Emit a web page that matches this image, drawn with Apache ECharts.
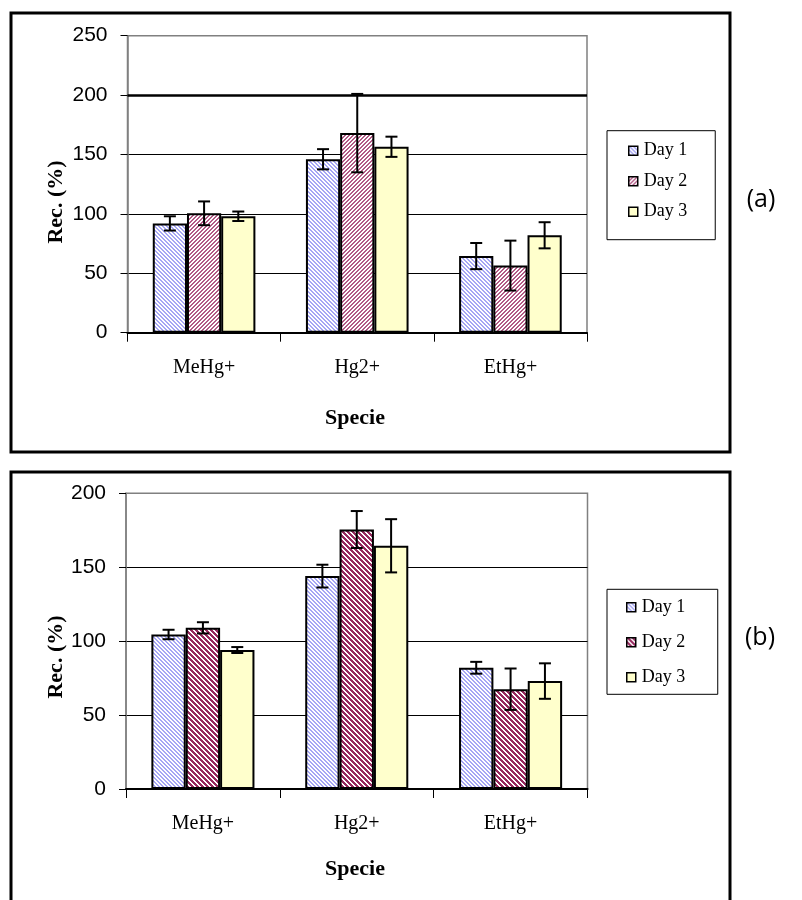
<!DOCTYPE html>
<html>
<head>
<meta charset="utf-8">
<script src="https://cdn.jsdelivr.net/npm/echarts@6/dist/echarts.min.js"></script>
<style>
  html, body { margin: 0; padding: 0; background: #fff; }
  #chart { width: 802px; height: 900px; }
</style>
</head>
<body>
<div id="chart"></div>
<script>
// Mercury species recovery (%) over three days, two experiments (a) and (b)
const species = ['MeHg+', 'Hg2+', 'EtHg+'];
const dayNames = ['Day 1', 'Day 2', 'Day 3'];

// Panel (a): mean recovery and standard deviation per day
const aDay1 = [92, 146, 64.5];
const aDay1Err = [6, 8.5, 11];
const aDay2 = [100.5, 168, 56.5];
const aDay2Err = [10, 33, 21];
const aDay3 = [98, 156.5, 82];
const aDay3Err = [4, 8.5, 11];

// Panel (b): mean recovery and standard deviation per day
const bDay1 = [104.5, 144, 82];
const bDay1Err = [3.2, 7.7, 4];
const bDay2 = [109, 175.5, 67.5];
const bDay2Err = [3.8, 12.5, 14];
const bDay3 = [94, 164.5, 73];
const bDay3Err = [2, 18, 12];

// Axis ranges / tick steps
const aTicks = { min: 0, max: 250, interval: 50 };
const bTicks = { min: 0, max: 200, interval: 50 };
const aHighlightLine = 200;

const SERIF = "'Liberation Serif', 'Times New Roman', serif";
const SANS = "'Liberation Sans', Arial, sans-serif";
const CAT_GAP = 0.33;

// Pixel-exact diagonal hatching on a small repeating tile
function hatch(color, size, width, dir) {
  const c = document.createElement('canvas');
  c.width = size; c.height = size;
  const g = c.getContext('2d');
  g.fillStyle = '#ffffff';
  g.fillRect(0, 0, size, size);
  g.fillStyle = color;
  for (let y = 0; y < size; y++) {
    for (let j = 0; j < width; j++) {
      const base = dir === 'down' ? y : size - 1 - y;
      const x = (base + j) % size;
      g.fillRect(x, y, 1, 1);
    }
  }
  return { image: c, repeat: 'repeat' };
}

const fillDay1 = hatch('#a6a6f4', 4, 2, 'down');
const fillDay2a = hatch('#b25a86', 4, 2, 'up');
const fillDay2b = hatch('#96295e', 5, 3, 'down');
const fillDay3 = '#ffffcc';

function barSeries(name, data, fill, gi, extra) {
  return Object.assign({
    type: 'bar', name: name, data: data,
    xAxisIndex: gi, yAxisIndex: gi,
    barGap: '0%', barCategoryGap: (CAT_GAP * 100) + '%',
    itemStyle: { color: fill, borderColor: '#000', borderWidth: 2 },
    emphasis: { disabled: true },
    z: 2
  }, extra || {});
}

function errSeries(means, errs, k, gi) {
  return {
    type: 'custom', xAxisIndex: gi, yAxisIndex: gi, z: 5, silent: true,
    data: means.map((v, i) => [i, v, errs[i]]),
    encode: { x: 0, y: 1 },
    renderItem: function (params, api) {
      const xi = api.value(0), v = api.value(1), e = api.value(2);
      const band = api.size([1, 0])[0];
      const bw = band * (1 - CAT_GAP) / 3;
      const cx = api.coord([xi, v])[0] + (k - 1) * bw;
      const yt = api.coord([xi, v + e])[1];
      const yb = api.coord([xi, v - e])[1];
      const cap = 6;
      const st = { stroke: '#000', lineWidth: 2 };
      return {
        type: 'group',
        children: [
          { type: 'line', shape: { x1: cx, y1: yt, x2: cx, y2: yb }, style: st },
          { type: 'line', shape: { x1: cx - cap, y1: yt, x2: cx + cap, y2: yt }, style: st },
          { type: 'line', shape: { x1: cx - cap, y1: yb, x2: cx + cap, y2: yb }, style: st }
        ]
      };
    }
  };
}

function xAxisFor(gi) {
  return {
    type: 'category', gridIndex: gi, data: species,
    axisLine: { lineStyle: { color: '#000', width: 2 } },
    axisTick: { show: true, length: 9, lineStyle: { color: '#000', width: 1 } },
    axisLabel: { fontFamily: SERIF, fontSize: 20, color: '#000', margin: 25 },
    splitLine: { show: false }
  };
}

function yAxisFor(gi, t) {
  return {
    type: 'value', gridIndex: gi, min: t.min, max: t.max, interval: t.interval,
    axisLine: { show: true, lineStyle: { color: '#808080', width: 1.5 } },
    axisTick: { show: true, length: 7, lineStyle: { color: '#000', width: 1 } },
    axisLabel: { fontFamily: SANS, fontSize: 21, color: '#000', margin: 20 },
    splitLine: { show: true, showMinLine: false, showMaxLine: false,
                 lineStyle: { color: '#000', width: 1 } }
  };
}

function legendFor(gi, top, gap, pad) {
  return {
    orient: 'vertical', left: 607, top: top,
    data: dayNames.map((n) => ({ name: n + (gi ? ' ' : '') })),
    itemWidth: 9, itemHeight: 9, itemGap: gap,
    padding: pad,
    borderColor: '#000', borderWidth: 1, backgroundColor: '#fff',
    itemStyle: { borderColor: '#000', borderWidth: 1.5 },
    textStyle: { fontFamily: SERIF, fontSize: 18, color: '#000', padding: [0, 0, 0, 1] },
    icon: 'rect', selectedMode: false
  };
}

// Series names get a trailing space in panel (b) so each legend only lists its own panel
const nm = (i, gi) => dayNames[i] + (gi ? ' ' : '');

const chart = echarts.init(document.getElementById('chart'), null, { renderer: 'canvas' });
chart.setOption({
  backgroundColor: '#fff',
  animation: false,
  grid: [
    { left: 127.5, top: 35.7, width: 459.5, height: 297, show: true,
      borderColor: '#808080', borderWidth: 1.5, backgroundColor: 'transparent' },
    { left: 126, top: 493.3, width: 461.5, height: 295.7, show: true,
      borderColor: '#808080', borderWidth: 1.5, backgroundColor: 'transparent' }
  ],
  xAxis: [xAxisFor(0), xAxisFor(1)],
  yAxis: [yAxisFor(0, aTicks), yAxisFor(1, bTicks)],
  legend: [
    legendFor(0, 130.7, 12.5, [11, 28, 19, 21]),
    legendFor(1, 589.3, 17, [9, 28, 8, 19])
  ],
  series: [
    barSeries(nm(0, 0), aDay1, fillDay1, 0, {
      markLine: {
        silent: true, symbol: 'none', label: { show: false },
        lineStyle: { color: '#000', width: 2.5, type: 'solid' },
        data: [{ yAxis: aHighlightLine }], z: 1
      }
    }),
    barSeries(nm(1, 0), aDay2, fillDay2a, 0),
    barSeries(nm(2, 0), aDay3, fillDay3, 0),
    errSeries(aDay1, aDay1Err, 0, 0),
    errSeries(aDay2, aDay2Err, 1, 0),
    errSeries(aDay3, aDay3Err, 2, 0),

    barSeries(nm(0, 1), bDay1, fillDay1, 1),
    barSeries(nm(1, 1), bDay2, fillDay2b, 1),
    barSeries(nm(2, 1), bDay3, fillDay3, 1),
    errSeries(bDay1, bDay1Err, 0, 1),
    errSeries(bDay2, bDay2Err, 1, 1),
    errSeries(bDay3, bDay3Err, 2, 1)
  ],
  graphic: [
    // Frames round each panel
    { type: 'rect', shape: { x: 11, y: 13, width: 719, height: 439 },
      style: { fill: 'none', stroke: '#000', lineWidth: 3 }, z: 0, silent: true },
    { type: 'rect', shape: { x: 11, y: 472, width: 719, height: 440 },
      style: { fill: 'none', stroke: '#000', lineWidth: 3 }, z: 0, silent: true },
    // Axis titles
    { type: 'text', x: 56.5, y: 202, rotation: Math.PI / 2,
      style: { text: 'Rec. (%)', font: 'bold 22px ' + SERIF, fill: '#000',
               align: 'center', verticalAlign: 'middle' } },
    { type: 'text', x: 355, y: 418,
      style: { text: 'Specie', font: 'bold 22px ' + SERIF, fill: '#000',
               align: 'center', verticalAlign: 'middle' } },
    { type: 'text', x: 56.5, y: 657, rotation: Math.PI / 2,
      style: { text: 'Rec. (%)', font: 'bold 22px ' + SERIF, fill: '#000',
               align: 'center', verticalAlign: 'middle' } },
    { type: 'text', x: 355, y: 869,
      style: { text: 'Specie', font: 'bold 22px ' + SERIF, fill: '#000',
               align: 'center', verticalAlign: 'middle' } },
    // Panel tags
    { type: 'text', x: 761, y: 200,
      style: { text: '(a)', font: '25px "Open Sans", sans-serif', fill: '#000',
               align: 'center', verticalAlign: 'middle' } },
    { type: 'text', x: 760, y: 638,
      style: { text: '(b)', font: '25px "Open Sans", sans-serif', fill: '#000',
               align: 'center', verticalAlign: 'middle' } }
  ]
});
</script>
</body>
</html>
